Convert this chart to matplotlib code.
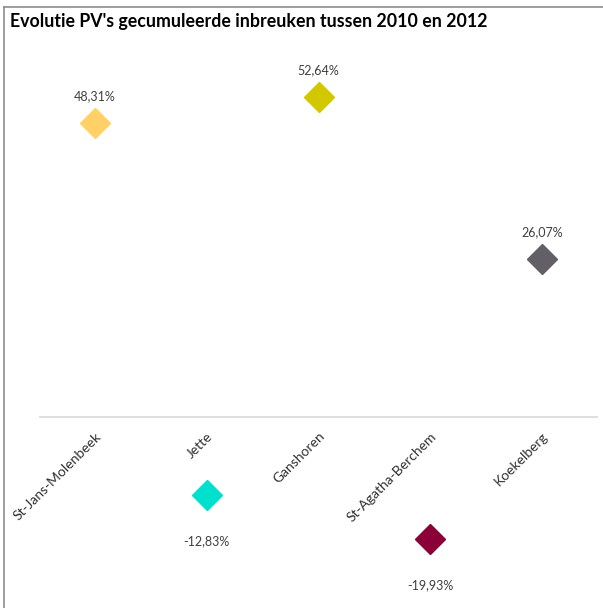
import matplotlib
matplotlib.use("Agg")
import matplotlib.pyplot as plt
from matplotlib.lines import Line2D
import matplotlib.transforms as mtransforms

categories = ["St-Jans-Molenbeek", "Jette", "Ganshoren", "St-Agatha-Berchem", "Koekelberg"]
values = [48.31, -12.83, 52.64, -19.93, 26.07]
labels = ["48,31%", "-12,83%", "52,64%", "-19,93%", "26,07%"]
colors = ["#FFD166", "#00E0CF", "#D2C800", "#8C0038", "#625F66"]
title = "Evolutie PV's gecumuleerde inbreuken tussen 2010 en 2012"

plt.rcParams['font.family'] = ['Lato', 'DejaVu Sans']

W, H = 603, 608
fig = plt.figure(figsize=(W / 100, H / 100), dpi=100)

# axes spans x 39..598 px, y 40..600 px
ax = fig.add_axes([39 / W, 1 - 600 / H, (598 - 39) / W, (600 - 40) / H])
ax.set_xlim(-0.5, len(categories) - 0.5)
ax.set_ylim(-30, 62)
for s in ax.spines.values():
    s.set_visible(False)
ax.set_xticks([])
ax.set_yticks([])
ax.axhline(0, color="#D9D9D9", lw=1.2)

xs = list(range(len(categories)))
for x, v, c, lab in zip(xs, values, colors, labels):
    ax.plot([x], [v], marker="D", markersize=15, color=c, mec=c, ls="none")
    off = 27 if v >= 0 else -46
    ax.annotate(lab, (x, v), xytext=(0, off * 0.72), textcoords="offset points",
                ha="center", va="center", fontsize=9, color="#404040")

# category labels rotated 45 degrees
for x, cat in zip(xs, categories):
    t = mtransforms.offset_copy(ax.transData, fig=fig, x=4, y=-17, units="dots")
    ax.text(x, 0, cat, transform=t, rotation=45, rotation_mode="anchor",
            ha="right", va="center", fontsize=10, color="#303030")

fig.text(10 / W, 1 - 21 / H, title, fontsize=12.8, fontweight="bold",
         ha="left", va="center", color="black")

# border (top and left)
fig.add_artist(Line2D([4 / W, 4 / W], [0, 1 - 7 / H], transform=fig.transFigure,
                      color="#8C8C8C", lw=1.2))
fig.add_artist(Line2D([4 / W, 1], [1 - 7 / H, 1 - 7 / H], transform=fig.transFigure,
                      color="#8C8C8C", lw=1.2))

fig.savefig("out.png", dpi=100)
